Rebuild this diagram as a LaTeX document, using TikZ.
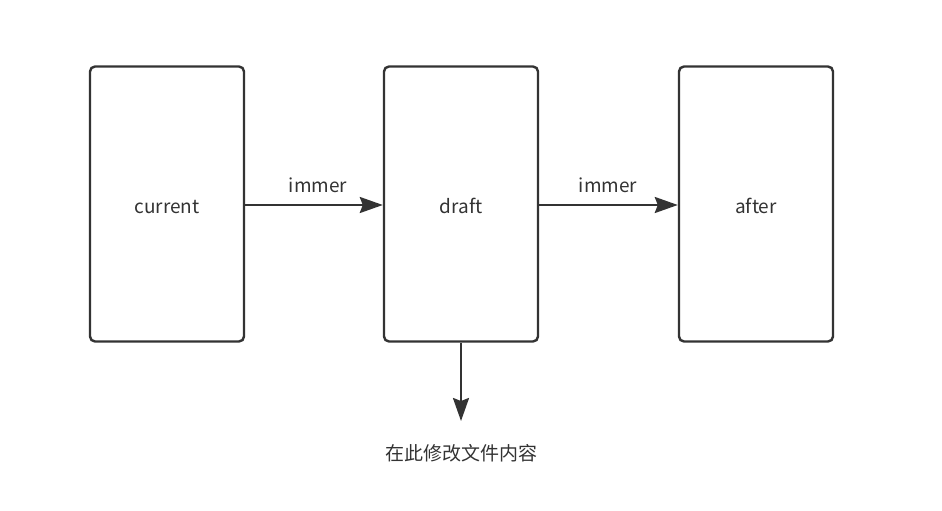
\documentclass[tikz,border=0pt]{standalone}
\usepackage{fontspec}
\setmainfont{Noto Sans CJK SC}
\usetikzlibrary{arrows.meta}
\definecolor{ink}{HTML}{333333}
\tikzset{
  box/.style={draw=ink, line width=2.4pt, rounded corners=5pt, minimum width=154pt, minimum height=275pt, inner sep=0pt},
  conn/.style={draw=ink, line width=2.4pt, -{Stealth[length=23pt,width=16pt,inset=3pt]}},
  lbl/.style={text=ink, font=\fontsize{19}{22}\selectfont, inner sep=0pt, anchor=base}
}
\begin{document}
\begin{tikzpicture}[x=1pt,y=-1pt]
\useasboundingbox (0,0) rectangle (942,511);
\node[box] (cur) at (167,204) {};
\node[box] (dra) at (461,204) {};
\node[box] (aft) at (756,204) {};
\node[lbl] (tcur) at (167,213) {current};
\node[lbl] (tdra) at (461,213) {draft};
\node[lbl] (taft) at (756,213) {after};
\coordinate (a1) at (cur.east |- 0,205);
\coordinate (b1) at (dra.west |- 0,205);
\coordinate (a2) at (dra.east |- 0,205);
\coordinate (b2) at (aft.west |- 0,205);
\draw[conn] (a1) -- (b1);
\draw[conn] (a2) -- (b2);
\node[lbl] (l1) at (318,192) {immer};
\node[lbl] (l2) at (608,192) {immer};
\coordinate (end) at (461,421);
\draw[conn] (dra.south) -- (end);
\node[lbl] (note) at (461,460) {在此修改文件内容};
\end{tikzpicture}
\end{document}
